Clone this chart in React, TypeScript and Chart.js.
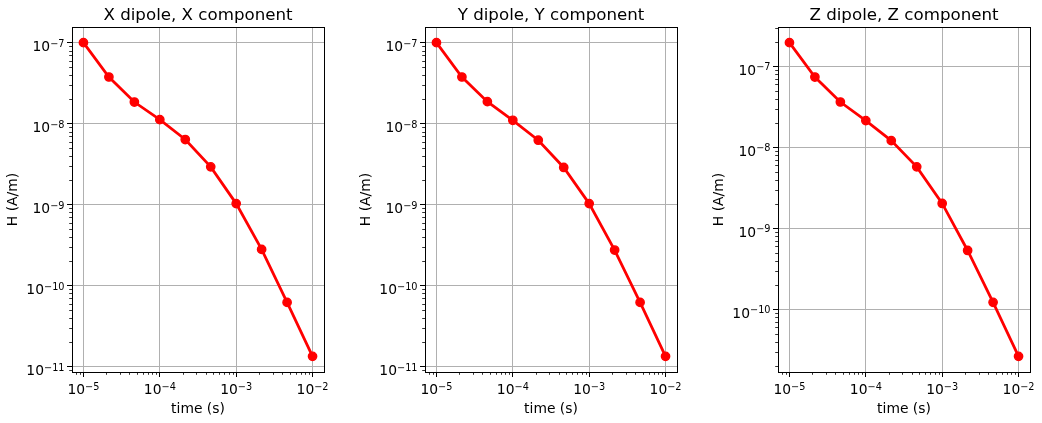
import React, { useEffect, useRef } from "react";
import { Chart, registerables } from "chart.js";

Chart.register(...registerables);

// ---- data ----
const times = [1e-5, 2.154e-5, 4.642e-5, 1e-4, 2.154e-4, 4.642e-4, 1e-3, 2.154e-3, 4.642e-3, 1e-2];
const hxX = [1.0e-7, 3.77e-8, 1.85e-8, 1.12e-8, 6.37e-9, 2.93e-9, 1.03e-9, 2.8e-10, 6.21e-11, 1.34e-11];
const hyY = [1.0e-7, 3.77e-8, 1.87e-8, 1.1e-8, 6.25e-9, 2.88e-9, 1.03e-9, 2.75e-10, 6.21e-11, 1.34e-11];
const hzZ = [1.96e-7, 7.38e-8, 3.63e-8, 2.14e-8, 1.21e-8, 5.74e-9, 2.03e-9, 5.33e-10, 1.22e-10, 2.63e-11];
const panelTitles = ["X dipole, X component", "Y dipole, Y component", "Z dipole, Z component"];
const xAxisTitle = "time (s)";
const yAxisTitle = "H (A/m)";
const tickBase = "10";

const FONT = "'DejaVu Sans', sans-serif";
const BASE_SIZE = 13.89;
const EXP_SIZE = 9.72;

function expText(v: number): string {
  const e = Math.round(Math.log10(v));
  return String(e).replace("-", "\u2212");
}

function logRange(vals: number[]): [number, number] {
  const lo = Math.log10(Math.min(...vals));
  const hi = Math.log10(Math.max(...vals));
  const m = (hi - lo) * 0.05;
  return [Math.pow(10, lo - m), Math.pow(10, hi + m)];
}

function majorTicks(min: number, max: number) {
  const out: { value: number }[] = [];
  for (let e = Math.floor(Math.log10(min)); e <= Math.ceil(Math.log10(max)); e++) {
    const v = Number("1e" + e);
    if (v >= min && v <= max) out.push({ value: v });
  }
  return out;
}

function minorValues(min: number, max: number) {
  const out: number[] = [];
  for (let e = Math.floor(Math.log10(min)); e <= Math.ceil(Math.log10(max)); e++) {
    for (let k = 2; k <= 9; k++) {
      const v = k * Number("1e" + e);
      if (v >= min && v <= max) out.push(v);
    }
  }
  return out;
}

const framePlugin = {
  id: "frame",
  afterDraw(chart: any, _args: any, opts: any) {
    const { ctx, chartArea: a } = chart;
    const xs = chart.scales.x;
    const ys = chart.scales.y;
    ctx.save();
    // minor ticks
    ctx.strokeStyle = "#000";
    ctx.lineWidth = 0.8;
    ctx.beginPath();
    for (const v of minorValues(xs.min, xs.max)) {
      const px = Math.round(xs.getPixelForValue(v)) + 0.5;
      ctx.moveTo(px, a.bottom);
      ctx.lineTo(px, a.bottom + 2.8);
    }
    for (const v of minorValues(ys.min, ys.max)) {
      const py = Math.round(ys.getPixelForValue(v)) + 0.5;
      ctx.moveTo(a.left, py);
      ctx.lineTo(a.left - 2.8, py);
    }
    ctx.stroke();
    // spines
    ctx.lineWidth = 1;
    ctx.strokeRect(Math.round(a.left) + 0.5, Math.round(a.top) + 0.5, Math.round(a.right - a.left), Math.round(a.bottom - a.top));

    // tick labels (10 with raised exponent), positioned from the scales
    ctx.fillStyle = "#000";
    ctx.textBaseline = "alphabetic";
    const baseFont = `${BASE_SIZE}px ${FONT}`;
    const expFont = `${EXP_SIZE}px ${FONT}`;
    for (const t of xs.ticks) {
      const px = xs.getPixelForValue(t.value);
      const ex = expText(t.value);
      ctx.font = baseFont;
      const wb = ctx.measureText(tickBase).width;
      ctx.font = expFont;
      const we = ctx.measureText(ex).width;
      const x0 = px - (wb + we) / 2;
      const baseY = a.bottom + 22.3;
      ctx.textAlign = "left";
      ctx.font = baseFont;
      ctx.fillText(tickBase, x0, baseY);
      ctx.font = expFont;
      ctx.fillText(ex, x0 + wb, baseY - 4.6);
    }
    for (const t of ys.ticks) {
      const py = ys.getPixelForValue(t.value);
      const ex = expText(t.value);
      const right = a.left - 7.5;
      ctx.font = expFont;
      const we = ctx.measureText(ex).width;
      const baseY = py + 8.3;
      ctx.textAlign = "right";
      ctx.fillText(ex, right, baseY - 4.2);
      ctx.font = baseFont;
      ctx.fillText(tickBase, right - we, baseY);
    }

    // title
    ctx.font = `16.67px ${FONT}`;
    ctx.textAlign = "center";
    ctx.fillText(opts.text, (a.left + a.right) / 2, 20);
    ctx.restore();
  },
};

function Panel({ values, title, left }: { values: number[]; title: string; left: number }) {
  const ref = useRef<HTMLCanvasElement | null>(null);
  useEffect(() => {
    if (!ref.current) return;
    const [xMin, xMax] = logRange(times);
    const [yMin, yMax] = logRange(values);
    const chart = new Chart(ref.current, {
      type: "line",
      data: {
        datasets: [
          {
            data: times.map((t, i) => ({ x: t, y: values[i] })),
            borderColor: "#ff0000",
            backgroundColor: "#ff0000",
            borderWidth: 2.78,
            pointRadius: 4.17,
            pointBorderWidth: 1.39,
            pointBorderColor: "#ff0000",
            pointBackgroundColor: "#ff0000",
            fill: false,
            tension: 0,
          },
        ],
      },
      options: {
        animation: false,
        responsive: false,
        devicePixelRatio: 1,
        events: [],
        layout: { padding: { top: 27, left: 0, right: 12, bottom: 0 } },
        plugins: {
          legend: { display: false },
          tooltip: { enabled: false },
          title: { display: false },
          frame: { text: title },
        } as any,
        scales: {
          x: {
            type: "logarithmic",
            min: xMin,
            max: xMax,
            bounds: "data",
            afterBuildTicks: (s: any) => { s.ticks = majorTicks(s.min, s.max); },
            afterFit: (s: any) => { s.height = 51; },
            grid: { color: "#b0b0b0", lineWidth: 1, drawTicks: true, tickLength: 5, tickColor: "#000", tickWidth: 1 },
            border: { display: true, color: "#000", width: 1 },
            ticks: { display: false, autoSkip: false },
            title: {
              display: true,
              text: xAxisTitle,
              color: "#000",
              font: { family: FONT, size: BASE_SIZE, lineHeight: 1 },
              padding: { top: 0, bottom: 7 },
            },
          },
          y: {
            type: "logarithmic",
            min: yMin,
            max: yMax,
            bounds: "data",
            afterBuildTicks: (s: any) => { s.ticks = majorTicks(s.min, s.max); },
            afterFit: (s: any) => { s.width = 72; },
            grid: { color: "#b0b0b0", lineWidth: 1, drawTicks: true, tickLength: 5, tickColor: "#000", tickWidth: 1 },
            border: { display: true, color: "#000", width: 1 },
            ticks: { display: false, autoSkip: false },
            title: {
              display: true,
              text: yAxisTitle,
              color: "#000",
              font: { family: FONT, size: BASE_SIZE, lineHeight: 1 },
              padding: { top: 6, bottom: 0 },
            },
          },
        },
      } as any,
      plugins: [framePlugin as any],
    });
    return () => chart.destroy();
  }, [values, title]);
  return (
    <canvas
      ref={ref}
      width={336}
      height={423}
      style={{ position: "absolute", left, top: 0, width: 336, height: 423 }}
    />
  );
}

export default function App() {
  return (
    <div style={{ position: "fixed", left: 0, top: 0, width: 1042, height: 423, overflow: "hidden", background: "#fff" }}>
      <Panel values={hxX} title={panelTitles[0]} left={0} />
      <Panel values={hyY} title={panelTitles[1]} left={353} />
      <Panel values={hzZ} title={panelTitles[2]} left={706} />
    </div>
  );
}
